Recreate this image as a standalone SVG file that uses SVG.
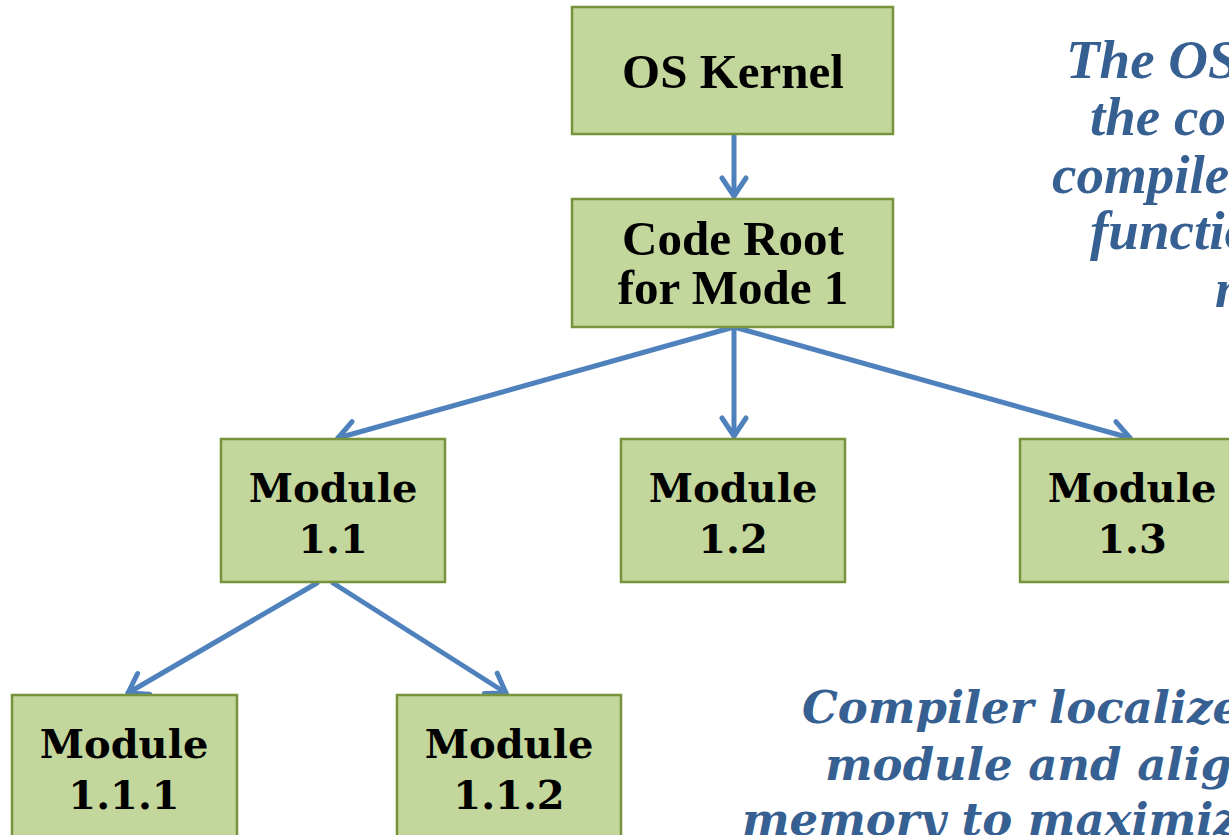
<svg xmlns="http://www.w3.org/2000/svg" width="1229" height="835" viewBox="0 0 1229 835">
<defs>
<style>
.box{fill:#c3d69b;stroke:#77933c;stroke-width:2.5}
.t1{font-family:"Liberation Serif",serif;font-weight:bold;font-size:49px;fill:#000;text-anchor:middle}
.t2{font-family:"DejaVu Serif",serif;font-weight:bold;font-size:40px;fill:#000;text-anchor:middle}
.n1{font-family:"Liberation Serif",serif;font-weight:bold;font-style:italic;font-size:55px;fill:#376092}
.n2{font-family:"DejaVu Serif",serif;font-weight:bold;font-style:italic;font-size:45px;fill:#376092}
.edge{stroke:#4f81bd;stroke-width:5;fill:none;stroke-linecap:round}
</style>
<marker id="arr" markerUnits="userSpaceOnUse" markerWidth="30" markerHeight="30" viewBox="0 0 30 30" refX="22" refY="15" orient="auto">
<path d="M4,3 L22,15 L4,27" fill="none" stroke="#4f81bd" stroke-width="5" stroke-linecap="round" stroke-linejoin="round"/>
</marker>
</defs>
<rect width="1229" height="835" fill="#fff"/>
<g id="connectors">
<line class="edge" x1="734" y1="136" x2="734" y2="196" marker-end="url(#arr)"/>
<line class="edge" x1="734" y1="327" x2="338" y2="438" marker-end="url(#arr)"/>
<line class="edge" x1="734" y1="327" x2="734" y2="436" marker-end="url(#arr)"/>
<line class="edge" x1="734" y1="327" x2="1130" y2="438" marker-end="url(#arr)"/>
<line class="edge" x1="317" y1="583" x2="128" y2="693" marker-end="url(#arr)"/>
<line class="edge" x1="333" y1="583" x2="506" y2="693" marker-end="url(#arr)"/>
</g>
<g id="os-kernel">
<rect class="box" x="572" y="7" width="321" height="127"/>
<text class="t1" x="733" y="88">OS Kernel</text>
</g>
<g id="code-root">
<rect class="box" x="572" y="199" width="321" height="128"/>
<text class="t1" x="733" y="255">Code Root</text>
<text class="t1" x="733" y="304">for Mode 1</text>
</g>
<g id="module-1-1">
<rect class="box" x="221" y="439" width="224" height="143"/>
<text class="t2" x="333" y="502">Module</text>
<text class="t2" x="333" y="553">1.1</text>
</g>
<g id="module-1-2">
<rect class="box" x="621" y="439" width="224" height="143"/>
<text class="t2" x="733" y="502">Module</text>
<text class="t2" x="733" y="553">1.2</text>
</g>
<g id="module-1-3">
<rect class="box" x="1020" y="439" width="224" height="143"/>
<text class="t2" x="1132" y="502">Module</text>
<text class="t2" x="1132" y="553">1.3</text>
</g>
<g id="module-1-1-1">
<rect class="box" x="12" y="695" width="225" height="150"/>
<text class="t2" x="124" y="758">Module</text>
<text class="t2" x="124" y="809">1.1.1</text>
</g>
<g id="module-1-1-2">
<rect class="box" x="397" y="695" width="224" height="150"/>
<text class="t2" x="509" y="758">Module</text>
<text class="t2" x="509" y="809">1.1.2</text>
</g>
<g id="note-top">
<text class="n1" x="1066" y="78">The OS</text>
<text class="n1" x="1090" y="135">the co</text>
<text class="n1" x="1052" y="193">compile</text>
<text class="n1" x="1090" y="249">functio</text>
<text class="n1" x="1215" y="307">m</text>
</g>
<g id="note-bottom">
<text class="n2" x="802" y="723">Compiler localize</text>
<text class="n2" x="825" y="780">module and alig</text>
<text class="n2" x="742" y="835">memory to maximiz</text>
</g>
</svg>
